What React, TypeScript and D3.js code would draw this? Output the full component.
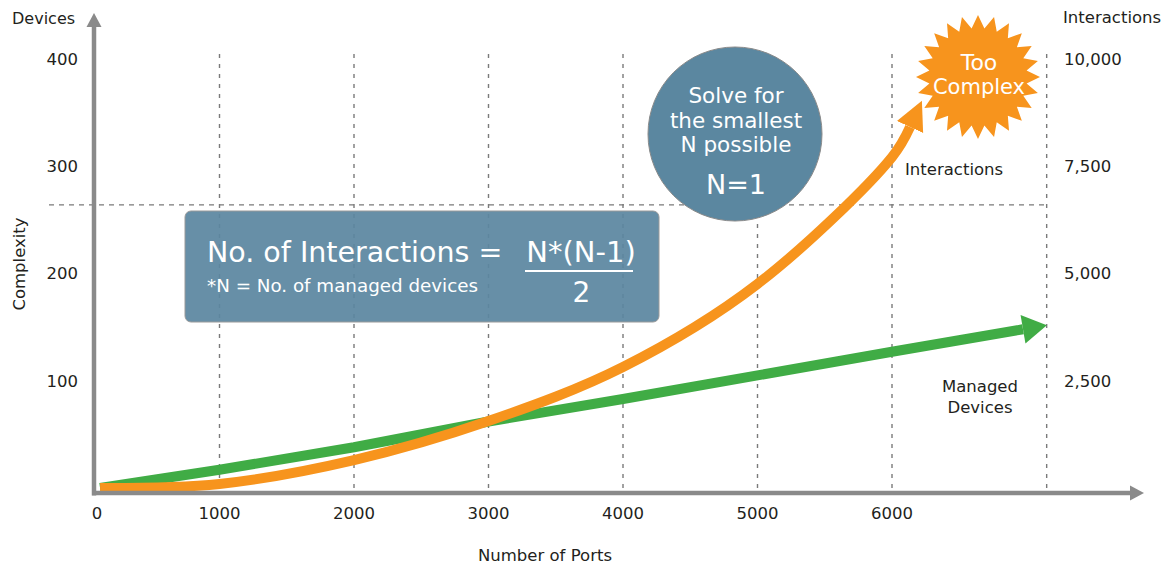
import React from 'react';
import * as d3 from 'd3';

// ---------- data ----------
const xTickValues = [0, 1000, 2000, 3000, 4000, 5000, 6000];
const xGridValues = [1000, 2000, 3000, 4000, 5000, 6000, 7150];
const leftTickValues = [100, 200, 300, 400];
const rightTickValues = [2500, 5000, 7500, 10000];
const refDevices = 264;

const interactionPorts = [112, 1000, 2000, 3000, 4000, 5000, 6000, 6134];
const interactionValues = [0, 95, 650, 1560, 2820, 4755, 7715, 8415];

const devicePorts = [112, 1000, 2000, 3000, 4000, 5000, 6000, 6974];
const deviceValues = [0, 17, 38, 62, 83, 105, 127, 148];

const formulaLeft = 'No. of Interactions =';
const formulaNum = 'N*(N-1)';
const formulaDen = '2';
const formulaNote = '*N = No. of managed devices';
const circleLines = ['Solve for', 'the smallest', 'N possible'];
const circleResult = 'N=1';
const burstLines = ['Too', 'Complex'];

const FONT = '"DejaVu Sans", Verdana, sans-serif';
const TEXT = '#231f20';
const AXIS = '#8a8a8a';
const GRID = '#7a7a7a';
const ORANGE = '#f7941d';
const GREEN = '#40ac45';
const BLUE = '#5b87a0';

export default function App() {
  const W = 1176;
  const H = 566;
  const x = d3.scaleLinear().domain([0, 7000]).range([85, 1026.5]);
  const yDev = d3.scaleLinear().domain([0, 400]).range([488, 59]);
  const yInt = d3.scaleLinear().domain([0, 10000]).range([488, 59]);

  const axisX = 94;
  const axisY = 493;
  const gridTop = 54;

  const orangeLine = d3
    .line<number>()
    .x((_, i) => x(interactionPorts[i]))
    .y((d) => yInt(d))
    .curve(d3.curveCatmullRom.alpha(0.5));
  const greenLine = d3
    .line<number>()
    .x((_, i) => x(devicePorts[i]))
    .y((d) => yDev(d))
    .curve(d3.curveLinear);

  // starburst
  const nSpikes = 24;
  const rOuter = 62;
  const rInner = 49;
  const burstPts: [number, number][] = d3.range(nSpikes * 2).map((i) => [
    (i * Math.PI) / nSpikes,
    i % 2 === 0 ? rOuter : rInner,
  ]);
  const burstPath = d3.lineRadial().curve(d3.curveLinearClosed)(burstPts) || '';

  const refY = yDev(refDevices);

  return (
    <svg
      width={W}
      height={H}
      style={{ position: 'absolute', left: 0, top: 0, background: '#fff' }}
      fontFamily={FONT}
    >
      <defs>
        <marker id="headOrange" markerUnits="userSpaceOnUse" markerWidth="30" markerHeight="30"
          viewBox="0 -12 24 24" refX="0" refY="0" orient="auto">
          <path d="M0,-11.5 L23,0 L0,11.5 Z" fill={ORANGE} />
        </marker>
        <marker id="headGreen" markerUnits="userSpaceOnUse" markerWidth="30" markerHeight="30"
          viewBox="0 -13 22 26" refX="0" refY="0" orient="auto">
          <path d="M0,-12.5 L21,0 L0,12.5 Z" fill={GREEN} />
        </marker>
      </defs>

      {/* vertical gridlines */}
      {xGridValues.map((v) => (
        <line key={'g' + v} x1={x(v)} x2={x(v)} y1={gridTop} y2={axisY - 2}
          stroke={GRID} strokeWidth={1.4} strokeDasharray="4,6" />
      ))}
      {/* horizontal reference line */}
      <line x1={49} x2={x(7150)} y1={refY} y2={refY} stroke={GRID} strokeWidth={1.4} strokeDasharray="5,5" />

      {/* formula box */}
      <rect x={185} y={211} width={474} height={111} rx={6} fill={BLUE} fillOpacity={0.93} stroke="#9a9a9a" strokeWidth={1} />
      <text x={207} y={262} fontSize={28.5} fill="#fff">{formulaLeft}</text>
      <text x={581} y={262} fontSize={29} fill="#fff" textAnchor="middle">{formulaNum}</text>
      <line x1={525} x2={633} y1={271} y2={271} stroke="#fff" strokeWidth={2} />
      <text x={581.5} y={302} fontSize={28} fill="#fff" textAnchor="middle">{formulaDen}</text>
      <text x={207} y={292} fontSize={18.3} fill="#fff">{formulaNote}</text>

      {/* circle */}
      <circle cx={735} cy={134} r={87} fill={BLUE} stroke="#8a8a8a" strokeWidth={1} />
      {circleLines.map((t, i) => (
        <text key={t} x={736} y={103 + i * 24.5} fontSize={21.5} fill="#fff" textAnchor="middle">{t}</text>
      ))}
      <text x={736} y={194} fontSize={27} fill="#fff" textAnchor="middle">{circleResult}</text>

      {/* series */}
      <path d={greenLine(deviceValues) || ''} fill="none" stroke={GREEN} strokeWidth={10} markerEnd="url(#headGreen)" />
      <path d={orangeLine(interactionValues) || ''} fill="none" stroke={ORANGE} strokeWidth={10} markerEnd="url(#headOrange)" />

      {/* starburst */}
      <g transform="translate(978,77)">
        <path d={burstPath} fill={ORANGE} />
        <text x={1} y={-7} fontSize={22} fill="#fff" textAnchor="middle">{burstLines[0]}</text>
        <text x={1} y={17} fontSize={21} fill="#fff" textAnchor="middle">{burstLines[1]}</text>
      </g>

      {/* axes */}
      <line x1={axisX} x2={axisX} y1={26} y2={axisY + 2.5} stroke={AXIS} strokeWidth={4.5} />
      <path d={`M${axisX - 7.5},27 L${axisX},13 L${axisX + 7.5},27 Z`} fill={AXIS} />
      <line x1={axisX - 2} x2={1131} y1={axisY} y2={axisY} stroke={AXIS} strokeWidth={4.5} />
      <path d={`M1130,${axisY - 7.5} L1144,${axisY} L1130,${axisY + 7.5} Z`} fill={AXIS} />

      {/* left ticks */}
      {leftTickValues.map((v) => (
        <text key={'l' + v} x={78} y={yDev(v)} dy="0.36em" fontSize={16.5} fill={TEXT} textAnchor="end">{v}</text>
      ))}
      {/* right ticks */}
      {rightTickValues.map((v) => (
        <text key={'r' + v} x={1064} y={yInt(v)} dy="0.36em" fontSize={16.5} fill={TEXT}>{d3.format(',')(v)}</text>
      ))}
      {/* bottom ticks */}
      {xTickValues.map((v) => (
        <text key={'b' + v} x={v === 0 ? axisX + 3 : x(v)} y={519} fontSize={16.5} fill={TEXT} textAnchor="middle">{v}</text>
      ))}

      {/* axis titles */}
      <text x={12} y={24} fontSize={16} fill={TEXT}>Devices</text>
      <text x={1063} y={23} fontSize={16.5} fill={TEXT}>Interactions</text>
      <text x={545} y={561} fontSize={16.5} fill={TEXT} textAnchor="middle">Number of Ports</text>
      <text transform="translate(25,264) rotate(-90)" fontSize={16.5} fill={TEXT} textAnchor="middle">Complexity</text>

      {/* series labels */}
      <text x={905} y={175} fontSize={16.5} fill={TEXT}>Interactions</text>
      <text x={980} y={392} fontSize={16.5} fill={TEXT} textAnchor="middle">Managed</text>
      <text x={980} y={413} fontSize={16.5} fill={TEXT} textAnchor="middle">Devices</text>
    </svg>
  );
}
